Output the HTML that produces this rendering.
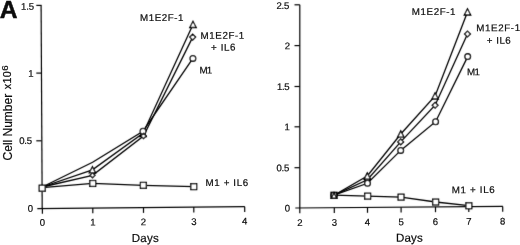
<!DOCTYPE html>
<html><head><meta charset="utf-8"><title>Figure A</title>
<style>
html,body{margin:0;padding:0;background:#fff;}
svg{display:block;}
.ax polyline{fill:none;stroke:#050505;stroke-width:1.2;}
.ln polyline{fill:none;stroke:#050505;stroke-width:1.3;}
.mk *{fill:#fff;stroke:#050505;stroke-width:1.3;}
.tx text{font-family:"Liberation Sans",sans-serif;fill:#0c0c0c;stroke:#0c0c0c;stroke-width:0.2;}
</style></head><body>
<svg width="520" height="245" viewBox="0 0 520 245">
<defs><filter id="soft" x="0" y="0" width="520" height="245" filterUnits="userSpaceOnUse"><feConvolveMatrix order="3" kernelMatrix="0.01 0.07 0.01 0.07 0.68 0.07 0.01 0.07 0.01" divisor="1" edgeMode="duplicate" preserveAlpha="false"/></filter></defs>
<rect x="0" y="0" width="520" height="245" fill="#fff"/>
<g filter="url(#soft)">
<g class="ax">
<polyline points="41.1,5.4 42.2,208.5"/>
<polyline points="37.3,208.6 244.8,206.7"/>
<polyline points="36.3,5.4 41.6,5.4"/>
<polyline points="36.3,73.1 41.6,73.1"/>
<polyline points="36.3,140.8 41.6,140.8"/>
<polyline points="42.4,208.5 42.4,213.8"/>
<polyline points="92.8,208.0 92.8,213.3"/>
<polyline points="143.5,207.6 143.5,212.9"/>
<polyline points="193.8,207.1 193.8,212.4"/>
<polyline points="244.7,206.7 244.7,212.0"/>
</g>
<g class="ax">
<polyline points="299.8,4.8 299.8,208.0"/>
<polyline points="295.3,208.0 502.9,206.4"/>
<polyline points="294.5,4.8 299.8,4.8"/>
<polyline points="294.5,45.6 299.8,45.6"/>
<polyline points="294.5,86.5 299.8,86.5"/>
<polyline points="294.5,126.8 299.8,126.8"/>
<polyline points="294.5,167.7 299.8,167.7"/>
<polyline points="299.8,208.0 299.8,213.3"/>
<polyline points="334.3,207.7 334.3,213.0"/>
<polyline points="367.5,207.5 367.5,212.8"/>
<polyline points="401.1,207.2 401.1,212.5"/>
<polyline points="435.5,206.9 435.5,212.2"/>
<polyline points="468.8,206.7 468.8,212.0"/>
<polyline points="502.7,206.4 502.7,211.7"/>
</g>
<g class="ln">
<polyline points="42.2,187.6 92.7,183.4 143.3,185.3 193.7,186.6"/>
<polyline points="42.2,187.0 92.6,162.3 143.0,131.2 192.9,58.4"/>
<polyline points="42.2,187.0 92.4,169.8 143.0,133.4 193.0,24.4"/>
<polyline points="42.2,187.0 92.5,175.3 143.5,136.0 192.7,37.1"/>
<polyline points="334.0,195.2 367.6,196.2 401.0,197.2 435.6,202.0 468.8,205.7"/>
<polyline points="334.0,195.2 367.3,176.0 400.8,134.0 435.1,95.9 467.5,11.9"/>
<polyline points="334.0,195.2 367.4,179.8 400.7,141.9 435.1,105.2 467.5,34.0"/>
<polyline points="334.0,195.2 367.5,183.3 400.7,150.4 435.6,121.7 467.7,56.6"/>
</g>
<g class="mk">
<polygon points="92.4,166.7 89.2,172.9 95.6,172.9"/>
<polygon points="143.0,130.3 139.8,136.5 146.2,136.5"/>
<polygon points="193.0,21.3 189.8,27.5 196.2,27.5"/>
<circle cx="143.0" cy="131.2" r="2.85"/>
<circle cx="192.9" cy="58.4" r="2.85"/>
<polygon points="92.5,172.8 95.0,175.3 92.5,177.8 90.0,175.3"/>
<polygon points="143.5,133.3 146.2,136.0 143.5,138.7 140.8,136.0"/>
<polygon points="192.7,34.2 195.6,37.1 192.7,40.0 189.8,37.1"/>
<rect x="39.2" y="185.2" width="6.0" height="6.0"/>
<rect x="89.8" y="180.5" width="5.9" height="5.9"/>
<rect x="140.4" y="182.4" width="5.9" height="5.9"/>
<rect x="190.8" y="183.7" width="5.9" height="5.9"/>
<polygon points="367.4,176.9 370.3,179.8 367.4,182.7 364.5,179.8"/>
<polygon points="400.7,139.0 403.6,141.9 400.7,144.8 397.8,141.9"/>
<polygon points="435.1,102.3 438.0,105.2 435.1,108.1 432.2,105.2"/>
<polygon points="467.5,31.1 470.4,34.0 467.5,36.9 464.6,34.0"/>
<polygon points="367.3,172.9 364.1,179.1 370.5,179.1"/>
<polygon points="400.8,130.9 397.6,137.1 404.0,137.1"/>
<polygon points="435.1,92.8 431.9,99.0 438.3,99.0"/>
<polygon points="467.5,8.8 464.3,15.0 470.7,15.0"/>
<circle cx="367.5" cy="183.3" r="2.85"/>
<circle cx="400.7" cy="150.4" r="2.85"/>
<circle cx="435.6" cy="121.7" r="2.85"/>
<circle cx="467.7" cy="56.6" r="2.85"/>
<rect x="364.7" y="193.2" width="5.9" height="5.9"/>
<rect x="398.1" y="194.2" width="5.9" height="5.9"/>
<rect x="432.7" y="199.1" width="5.9" height="5.9"/>
<rect x="465.9" y="202.8" width="5.9" height="5.9"/>
<rect x="331.0" y="192.3" width="6.0" height="6.0"/>
<circle cx="334.0" cy="195.3" r="2.9"/>
<polygon points="334.0,193.0 331.3,198.2 336.7,198.2"/>
</g>
</g>
<g class="tx">
<text x="-0.3" y="17.7" font-size="24.6" font-weight="bold" style="stroke-width:0.5">A</text>
<text transform="translate(21.0,9.8) rotate(-0.4) scale(1.0,1)" font-size="9.6" text-anchor="start" textLength="13.0" lengthAdjust="spacing">1.5</text>
<text transform="translate(33.6,76.6) rotate(-0.4) scale(1.0,1)" font-size="9.6" text-anchor="end">1</text>
<text transform="translate(19.2,144.0) rotate(-0.4) scale(1.0,1)" font-size="9.6" text-anchor="start" textLength="13.0" lengthAdjust="spacing">0.5</text>
<text transform="translate(33.0,211.8) rotate(-0.4) scale(1.0,1)" font-size="9.6" text-anchor="end">0</text>
<text transform="translate(42.4,225.8) rotate(-0.4) scale(1.0,1)" font-size="9.6" text-anchor="middle">0</text>
<text transform="translate(92.8,225.5) rotate(-0.4) scale(1.0,1)" font-size="9.6" text-anchor="middle">1</text>
<text transform="translate(143.5,225.2) rotate(-0.4) scale(1.0,1)" font-size="9.6" text-anchor="middle">2</text>
<text transform="translate(193.8,224.9) rotate(-0.4) scale(1.0,1)" font-size="9.6" text-anchor="middle">3</text>
<text transform="translate(244.7,224.6) rotate(-0.4) scale(1.0,1)" font-size="9.6" text-anchor="middle">4</text>
<text transform="translate(131.8,242.0) rotate(-0.3)" font-size="11.6" text-anchor="start" textLength="27.0" lengthAdjust="spacing">Days</text>
<text transform="translate(12.2,160.4) rotate(-90)" font-size="12" textLength="66.6" lengthAdjust="spacing">Cell Number</text>
<text transform="translate(10.8,89.2) rotate(-90) scale(1.08,1)" font-size="10" letter-spacing="0.3">x10<tspan font-size="9" dy="-2.6">6</tspan></text>
<text transform="translate(140.1,21.1) rotate(-0.3)" font-size="9.8" text-anchor="start" textLength="43.3" lengthAdjust="spacing">M1E2F-1</text>
<text transform="translate(200.5,38.9) rotate(-0.3)" font-size="9.8" text-anchor="start" textLength="43.8" lengthAdjust="spacing">M1E2F-1</text>
<text transform="translate(211.0,50.7) rotate(-0.3)" font-size="9.8" text-anchor="start" textLength="24.5" lengthAdjust="spacing">+ IL6</text>
<text transform="translate(199.6,73.6) rotate(-0.3)" font-size="9.8" text-anchor="start" textLength="12.6" lengthAdjust="spacing">M1</text>
<text transform="translate(205.6,186.1) rotate(-0.3)" font-size="9.8" text-anchor="start" textLength="42.6" lengthAdjust="spacing">M1 + IL6</text>
<text transform="translate(276.4,9.0) rotate(-0.4) scale(1.0,1)" font-size="9.6" text-anchor="start" textLength="13.0" lengthAdjust="spacing">2.5</text>
<text transform="translate(290.0,49.3) rotate(-0.4) scale(1.0,1)" font-size="9.6" text-anchor="end">2</text>
<text transform="translate(277.0,90.0) rotate(-0.4) scale(1.0,1)" font-size="9.6" text-anchor="start" textLength="12.6" lengthAdjust="spacing">1.5</text>
<text transform="translate(289.8,130.3) rotate(-0.4) scale(1.0,1)" font-size="9.6" text-anchor="end">1</text>
<text transform="translate(276.4,171.2) rotate(-0.4) scale(1.0,1)" font-size="9.6" text-anchor="start" textLength="13.0" lengthAdjust="spacing">0.5</text>
<text transform="translate(290.2,211.5) rotate(-0.4) scale(1.0,1)" font-size="9.6" text-anchor="end">0</text>
<text transform="translate(299.8,225.9) rotate(-0.4) scale(1.0,1)" font-size="9.6" text-anchor="middle">2</text>
<text transform="translate(334.3,225.7) rotate(-0.4) scale(1.0,1)" font-size="9.6" text-anchor="middle">3</text>
<text transform="translate(367.5,225.4) rotate(-0.4) scale(1.0,1)" font-size="9.6" text-anchor="middle">4</text>
<text transform="translate(401.1,225.2) rotate(-0.4) scale(1.0,1)" font-size="9.6" text-anchor="middle">5</text>
<text transform="translate(435.5,224.9) rotate(-0.4) scale(1.0,1)" font-size="9.6" text-anchor="middle">6</text>
<text transform="translate(468.8,224.7) rotate(-0.4) scale(1.0,1)" font-size="9.6" text-anchor="middle">7</text>
<text transform="translate(502.7,224.4) rotate(-0.4) scale(1.0,1)" font-size="9.6" text-anchor="middle">8</text>
<text transform="translate(395.9,241.8) rotate(-0.3)" font-size="11.6" text-anchor="start" textLength="26.9" lengthAdjust="spacing">Days</text>
<text transform="translate(411.8,15.1) rotate(-0.3)" font-size="9.8" text-anchor="start" textLength="43.7" lengthAdjust="spacing">M1E2F-1</text>
<text transform="translate(476.2,31.3) rotate(-0.3)" font-size="9.8" text-anchor="start" textLength="44.0" lengthAdjust="spacing">M1E2F-1</text>
<text transform="translate(486.8,43.8) rotate(-0.3)" font-size="9.8" text-anchor="start" textLength="24.0" lengthAdjust="spacing">+ IL6</text>
<text transform="translate(467.0,75.2) rotate(-0.3)" font-size="9.8" text-anchor="start" textLength="13.0" lengthAdjust="spacing">M1</text>
<text transform="translate(451.8,193.2) rotate(-0.3)" font-size="9.8" text-anchor="start" textLength="43.0" lengthAdjust="spacing">M1 + IL6</text>
</g>
</svg>
</body></html>
